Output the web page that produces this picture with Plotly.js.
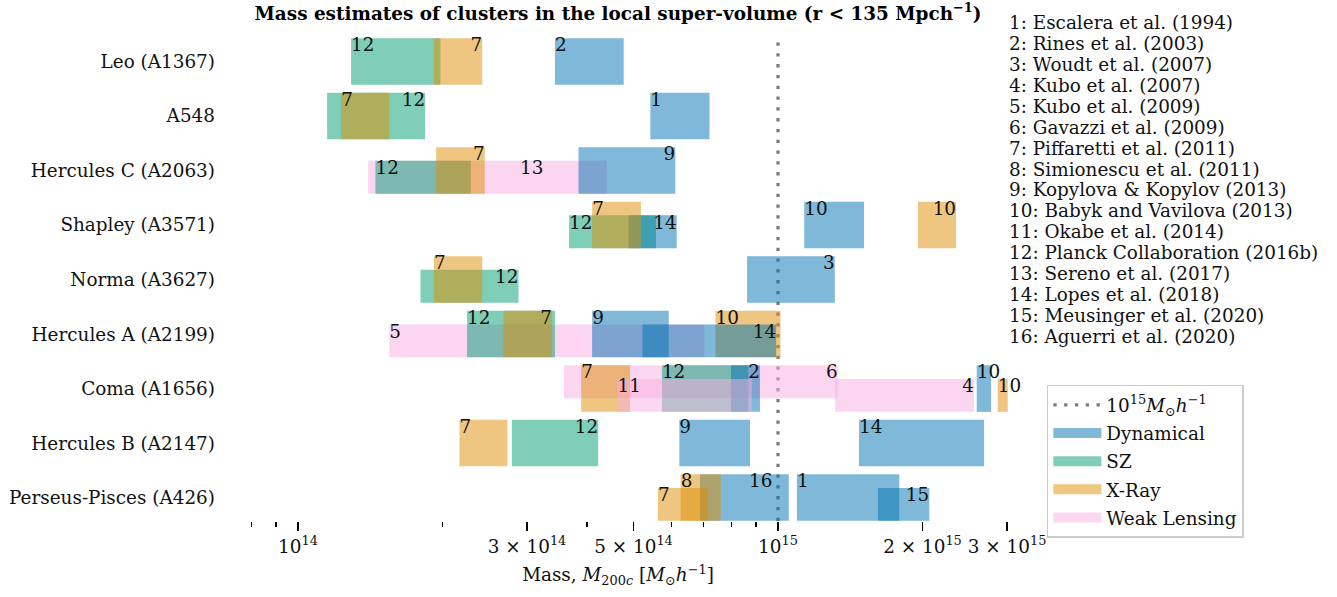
<!DOCTYPE html>
<html><head><meta charset="utf-8">
<script src="https://cdn.plot.ly/plotly-3.0.1.min.js"></script>
<style>html,body{margin:0;padding:0;background:#fff}#chart{width:1337px;height:597px}</style>
</head><body><div id="chart"></div>
<script>
// ---------- data ----------
const clusters = ['Leo (A1367)','A548','Hercules C (A2063)','Shapley (A3571)','Norma (A3627)',
  'Hercules A (A2199)','Coma (A1656)','Hercules B (A2147)','Perseus-Pisces (A426)'];
const methods = ['Dynamical','SZ','X-Ray','Weak Lensing'];
const methodColors = ['#0173b2','#029e73','#de8f05','#fbafe4'];
const references = ['Escalera et al. (1994)','Rines et al. (2003)','Woudt et al. (2007)','Kubo et al. (2007)',
  'Kubo et al. (2009)','Gavazzi et al. (2009)','Piffaretti et al. (2011)','Simionescu et al. (2011)',
  'Kopylova & Kopylov (2013)','Babyk and Vavilova (2013)','Okabe et al. (2014)','Planck Collaboration (2016b)',
  'Sereno et al. (2017)','Lopes et al. (2018)','Meusinger et al. (2020)','Aguerri et al. (2020)'];

// one entry per estimate, in drawing order (masses in 10^14 Msun/h)
const barCluster = [0,0,0, 1,1,1, 2,2,2,2, 3,3,3,3,3, 4,4,4, 5,5,5,5,5,5, 6,6,6,6,6,6,6,6, 7,7,7,7, 8,8,8,8,8];
const barRef     = [12,7,2, 12,7,1, 13,12,7,9, 12,14,7,10,10, 12,7,3, 5,12,7,9,10,14, 6,7,12,2,11,4,10,10, 7,12,9,14, 16,7,8,1,15];
const barMethod  = ['SZ','X-Ray','Dynamical', 'SZ','X-Ray','Dynamical',
  'Weak Lensing','SZ','X-Ray','Dynamical',
  'SZ','Dynamical','X-Ray','Dynamical','X-Ray',
  'SZ','X-Ray','Dynamical',
  'Weak Lensing','SZ','X-Ray','Dynamical','X-Ray','Dynamical',
  'Weak Lensing','X-Ray','SZ','Dynamical','Weak Lensing','Weak Lensing','Dynamical','X-Ray',
  'X-Ray','SZ','Dynamical','Dynamical',
  'Dynamical','X-Ray','X-Ray','Dynamical','Dynamical'];
const barLo = [1.29,1.92,3.43, 1.15,1.23,5.42, 1.40,1.45,1.94,3.84, 3.67,4.89,4.10,11.34,19.57,
  1.80,1.92,8.62, 1.55,2.25,2.68,4.10,7.41,5.22, 3.58,3.89,5.73,7.98,4.63,13.15,25.94,28.69,
  2.17,2.79,6.23,14.75, 6.88,5.62,6.27,10.95,16.16];
const barHi = [1.98,2.42,4.77, 1.84,1.55,7.20, 4.40,2.29,2.45,6.11, 5.57,6.15,5.18,15.11,23.49,
  2.88,2.42,13.13, 7.02,3.43,3.38,5.92,10.12,9.91, 13.32,4.92,8.67,9.17,8.82,25.61,27.78,30.10,
  2.73,4.22,8.74,26.87, 10.53,7.14,7.60,17.89,20.66];
// bar band: full row, lower part of row, upper part of row
const barLevel = ['full','full','full', 'full','full','full', 'low','low','full','full',
  'low','low','full','full','full', 'low','full','full', 'low','full','full','full','full','low',
  'high','full','full','full','low','low','full','low', 'full','full','full','full',
  'full','low','full','full','low'];
// where the reference number sits: l = left end, r = right end, m = from the mean
const labelSide = ['l','r','l', 'r','l','l', 'm','l','r','r', 'l','r','l','l','r', 'r','l','r',
  'l','l','r','l','l','r', 'r','l','l','r','l','r','l','l', 'l','r','l','l', 'm','l','l','l','r'];

const refMass = 1e15;
const majorTickVals = [1e14,3e14,5e14,1e15,2e15,3e15];
const majorTickText = ['10<sup>14</sup>','3 × 10<sup>14</sup>','5 × 10<sup>14</sup>','10<sup>15</sup>','2 × 10<sup>15</sup>','3 × 10<sup>15</sup>'];
const minorTickVals = [8e13,9e13,2e14,4e14,6e14,7e14,8e14,9e14];

// ---------- build ----------
const UNIT = 1e14;
const FONT = 'DejaVu Serif, serif';
const FS = 18.4;
const xRange = [13.85, 15.4833];
const yRange = [-0.43, 8.45];
const nRows = clusters.length;
const geom = {
  full: {offset: -0.4275, width: 0.855, dy: 0.27},
  low:  {offset: -0.4275, width: 0.605, dy: 0.02},
  high: {offset: -0.1775, width: 0.605, dy: 0.27}
};

const traces = [];
traces.push({
  type: 'scatter', mode: 'lines', x: [refMass, refMass], y: yRange,
  line: {color: 'rgba(118,118,118,0.95)', width: 3.3, dash: '3.3px,7.5px'},
  name: '10<sup>15</sup><i>M</i><sub>⊙</sub><i>h</i><sup>−1</sup>', legendrank: 1,
  legendgroup: 'ref', hoverinfo: 'skip'
});
// legend swatches for the four methods
methods.forEach((m, k) => traces.push({
  type: 'scatter', mode: 'lines', x: [null], y: [null], xaxis: 'x2', yaxis: 'y2',
  line: {color: methodColors[k], width: 15}, opacity: 0.5,
  name: m, legendrank: k + 2, legendgroup: m, hoverinfo: 'skip'
}));
const lx = [], ly = [], lt = [], lp = [];
for (let i = 0; i < barRef.length; i++) {
  const m = methods.indexOf(barMethod[i]);
  const row = nRows - 1 - barCluster[i];
  const g = geom[barLevel[i]];
  const lo = barLo[i] * UNIT, hi = barHi[i] * UNIT;
  traces.push({
    type: 'bar', orientation: 'h', xaxis: 'x2', yaxis: 'y2',
    y: [row], base: [lo], x: [hi - lo], width: [g.width], offset: [g.offset],
    marker: {color: methodColors[m], line: {width: 0}}, opacity: 0.5,
    name: methods[m], legendgroup: methods[m], showlegend: false, hoverinfo: 'skip'
  });
  const s = labelSide[i];
  lx.push(s === 'l' ? lo : s === 'r' ? hi : (lo + hi) / 2);
  ly.push(row + g.dy);
  lt.push(String(barRef[i]));
  lp.push(s === 'r' ? 'middle left' : 'middle right');
}
traces.push({
  type: 'scatter', mode: 'text', xaxis: 'x2', yaxis: 'y2', x: lx, y: ly, text: lt,
  textposition: lp, textfont: {family: FONT, size: FS, color: '#111'},
  cliponaxis: false, showlegend: false, hoverinfo: 'skip'
});

// reference list, one line per annotation (matplotlib-like line spacing)
const plotTop = 37, plotBottom = 521, listTop = 23, listStep = 20.87;
const annotations = references.map((r, i) => ({
  text: (i + 1) + ': ' + r.replace('&', '&amp;'),
  xref: 'paper', yref: 'paper', x: 0.9962,
  y: (plotBottom - (listTop + listStep * i)) / (plotBottom - plotTop),
  xanchor: 'left', yanchor: 'middle', align: 'left', showarrow: false,
  font: {family: FONT, size: FS, color: '#111'}
}));

const layout = {
  width: 1337, height: 597,
  margin: {l: 226, r: 327, t: plotTop, b: 597 - plotBottom},
  paper_bgcolor: '#fff', plot_bgcolor: 'rgba(0,0,0,0)',
  font: {family: FONT, size: FS, color: '#111'},
  barmode: 'overlay',
  title: {
    text: '<b>Mass estimates of clusters in the local super-volume (r &lt; 135 Mpch<sup>−1</sup>)</b>',
    x: 0.5, xref: 'paper', xanchor: 'center', y: 0.977, yref: 'container', yanchor: 'middle',
    font: {family: FONT, size: FS, color: '#000'}
  },
  xaxis: {
    type: 'log', range: xRange, tickmode: 'array', tickvals: majorTickVals, ticktext: majorTickText,
    ticks: 'outside', ticklen: 9, tickwidth: 1.5, tickcolor: '#000',
    minor: {tickmode: 'array', tickvals: minorTickVals, ticks: 'outside', ticklen: 5, tickwidth: 1.2, tickcolor: '#000', showgrid: false},
    showgrid: false, zeroline: false, showline: false, tickfont: {size: FS, color: '#111'},
    title: {text: 'Mass, <i>M</i><sub>200<i>c</i></sub> [<i>M</i><sub>⊙</sub><i>h</i><sup>−1</sup>]', font: {size: FS}, standoff: 12},
    fixedrange: true
  },
  yaxis: {
    range: yRange, tickmode: 'array', tickvals: clusters.map((c, i) => nRows - 1 - i), ticktext: clusters,
    ticks: '', showgrid: false, zeroline: false, showline: false, ticklabelstandoff: 10,
    tickfont: {size: FS, color: '#111'}, fixedrange: true
  },
  xaxis2: {type: 'log', range: xRange, overlaying: 'x', anchor: 'y2', visible: false, fixedrange: true},
  yaxis2: {range: yRange, overlaying: 'y', anchor: 'x2', visible: false, fixedrange: true},
  legend: {
    x: 1.047, y: 0.281, xanchor: 'left', yanchor: 'top', xref: 'paper', yref: 'paper',
    bgcolor: 'rgba(255,255,255,0.9)', bordercolor: '#cccccc', borderwidth: 1.5,
    font: {family: FONT, size: FS, color: '#111'}, itemwidth: 48,
    traceorder: 'grouped', tracegroupgap: 1.2
  },
  annotations: annotations,
  showlegend: true
};

Plotly.newPlot('chart', traces, layout, {displayModeBar: false, staticPlot: true});
</script>
</body></html>
